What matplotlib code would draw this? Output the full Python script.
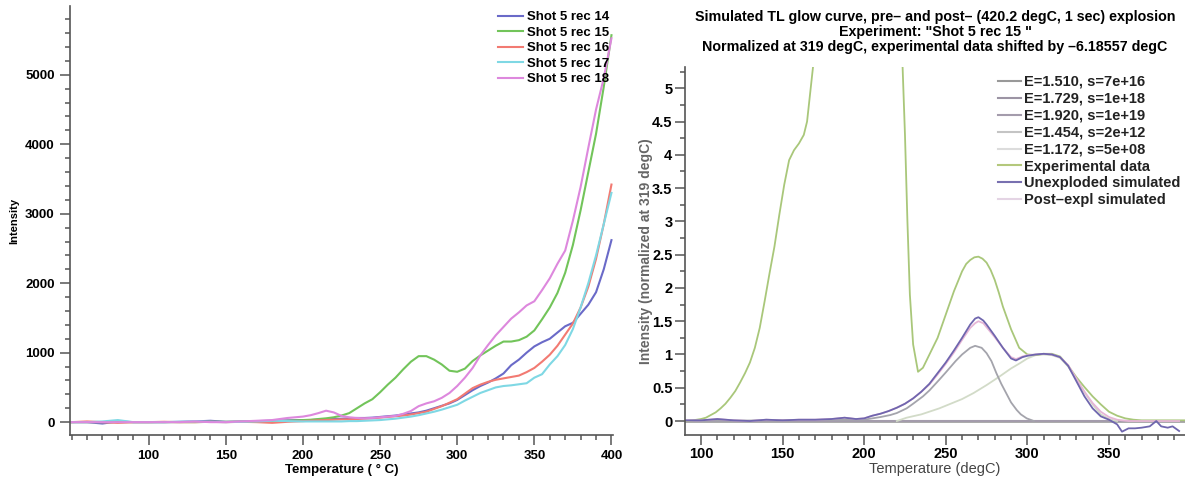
import matplotlib
matplotlib.use('Agg')
import matplotlib.pyplot as plt
from matplotlib.ticker import MultipleLocator

plt.rcParams['font.family'] = ['Liberation Sans', 'DejaVu Sans']

# ---- left panel: raw glow curves ----
temp_left = [50, 60, 70, 80, 90, 100, 110, 120, 130, 140, 150, 160, 170, 180, 190, 200,
             205, 210, 215, 220, 225, 230, 235, 240, 245, 250, 255, 260, 265, 270,
             275, 280, 285, 290, 295, 300, 305, 310, 315, 320, 325, 330, 335, 340,
             345, 350, 355, 360, 365, 370, 375, 380, 385, 390, 395, 400]

rec14 = [0, 0, -20, 10, 0, 0, 0, 5, 10, 20, 5, 10, 15, 20, 25, 30,
         30, 35, 40, 45, 50, 55, 60, 60, 65, 75, 85, 95, 110, 125,
         140, 165, 200, 235, 270, 320, 390, 460, 520, 570, 630, 700, 820, 900,
         1000, 1090, 1150, 1200, 1290, 1380, 1430, 1560, 1690, 1870, 2200, 2620]
rec15 = [0, 0, 0, 0, 0, 0, 0, 0, 0, 5, 5, 5, 10, 15, 20, 30,
         35, 45, 55, 70, 95, 130, 200, 270, 330, 430, 540, 640, 760, 870,
         950, 950, 900, 830, 740, 725, 770, 880, 960, 1030, 1100, 1160, 1160, 1180,
         1230, 1320, 1480, 1650, 1860, 2150, 2550, 3050, 3600, 4150, 4825, 5570]
rec16 = [0, 10, 0, -10, 0, 0, 5, 0, 0, 5, 0, 5, 0, -10, 5, 15,
         20, 25, 30, 35, 40, 40, 45, 50, 55, 65, 75, 85, 95, 110,
         130, 150, 190, 230, 280, 330, 410, 490, 540, 580, 610, 630, 650, 670,
         720, 780, 870, 970, 1100, 1260, 1420, 1650, 1950, 2350, 2850, 3420]
rec17 = [0, 0, 10, 30, 0, 0, 0, 5, 10, 5, 0, 5, 10, 20, 15, 10,
         10, 10, 10, 10, 10, 15, 15, 20, 25, 30, 40, 50, 65, 80,
         100, 125, 150, 180, 215, 250, 310, 365, 420, 460, 500, 520, 530, 545,
         560, 640, 690, 830, 950, 1110, 1340, 1650, 2000, 2400, 2850, 3300]
rec18 = [0, 0, 0, 0, 0, 0, 0, 0, 10, 0, 0, 10, 20, 30, 60, 80,
         100, 130, 165, 140, 90, 70, 60, 55, 60, 70, 80, 90, 120, 160,
         230, 270, 300, 350, 420, 520, 640, 780, 960, 1110, 1250, 1370, 1490, 1580,
         1680, 1740, 1900, 2070, 2280, 2470, 2900, 3385, 3950, 4500, 4950, 5525]

left_labels = ['Shot 5 rec 14', 'Shot 5 rec 15', 'Shot 5 rec 16', 'Shot 5 rec 17', 'Shot 5 rec 18']
left_colors = ['#6a6ac8', '#72c45a', '#f27a72', '#7fd8e4', '#dd88dd']
left_xticks = [100, 150, 200, 250, 300, 350, 400]

# ---- right panel: simulated glow curve ----
exp_T = [90, 95, 100, 103, 106, 109, 112, 115, 118, 121, 124, 127, 130, 133, 136, 139,
         142, 145, 148, 151, 154, 157, 160, 163, 165, 167, 169, 175, 195, 220, 223, 225,
         226.5, 228, 230, 233, 236, 240, 245, 250, 255, 260, 262.5, 265, 267.5, 270, 272.5,
         275, 277.5, 280, 282.5, 285, 290, 295, 300, 305, 310, 315, 320, 325, 330, 335,
         340, 345, 350, 355, 360, 365, 370, 380, 397]
exp_v = [0.0, 0.01, 0.03, 0.05, 0.09, 0.13, 0.19, 0.26, 0.35, 0.45, 0.58, 0.72, 0.88, 1.1, 1.4, 1.8,
         2.22, 2.62, 3.1, 3.55, 3.92, 4.07, 4.17, 4.3, 4.5, 4.95, 5.4, 6.8, 9.0, 7.0, 5.7, 4.3,
         3.0, 1.9, 1.15, 0.74, 0.8, 1.0, 1.25, 1.6, 1.95, 2.25, 2.36, 2.42, 2.46, 2.47, 2.44,
         2.38, 2.27, 2.12, 1.93, 1.72, 1.38, 1.1, 1.0, 0.99, 1.01, 1.01, 0.97, 0.83, 0.66, 0.51,
         0.37, 0.25, 0.14, 0.08, 0.04, 0.02, 0.01, 0.01, 0.01]

sim_T = [90, 100, 110, 120, 130, 140, 150, 160, 170, 180, 188, 195, 200, 205, 210, 215,
         220, 225, 230, 235, 240, 245, 250, 255, 260, 265, 268, 270, 273, 275, 280, 285, 290,
         293, 297, 300, 305, 310, 315, 320, 325, 330, 335, 340, 345, 350, 355, 358, 362,
         366, 370, 375, 379, 382, 386, 389, 393]
unexp_v = [0.01, 0.01, 0.03, 0.01, 0.0, 0.02, 0.01, 0.02, 0.02, 0.03, 0.05, 0.03, 0.04, 0.08, 0.11, 0.15,
           0.2, 0.26, 0.34, 0.44, 0.56, 0.72, 0.88, 1.06, 1.25, 1.45, 1.54, 1.56, 1.51, 1.45, 1.28, 1.1, 0.94,
           0.91, 0.96, 0.98, 1.0, 1.01, 1.0, 0.96, 0.83, 0.6, 0.37, 0.19, 0.07, 0.02, -0.05, -0.16, -0.11,
           -0.11, -0.1, -0.08, 0.0, -0.08, -0.1, -0.08, -0.15]
post_v = [0.01, 0.01, 0.03, 0.01, 0.0, 0.02, 0.01, 0.02, 0.02, 0.03, 0.05, 0.03, 0.04, 0.08, 0.11, 0.15,
          0.2, 0.26, 0.34, 0.44, 0.55, 0.7, 0.86, 1.03, 1.22, 1.4, 1.47, 1.5, 1.47, 1.41, 1.26, 1.1, 0.96,
          0.93, 0.97, 0.99, 1.0, 1.01, 1.0, 0.96, 0.84, 0.64, 0.44, 0.27, 0.14, 0.06, 0.02, 0.01, 0.0,
          0.0, 0.0, 0.0, 0.0, 0.0, 0.0, 0.0, 0.0]

c1510_T = [90, 200, 205, 210, 216, 220, 226, 230, 236, 240, 246, 250, 256, 260, 265, 268,
           272, 275, 278, 281, 284, 287, 290, 293.5, 296, 299.6, 304]
c1510_v = [0.0, 0.02, 0.04, 0.06, 0.09, 0.12, 0.19, 0.26, 0.37, 0.46, 0.62, 0.73, 0.9, 1.0, 1.1, 1.13,
           1.1, 1.02, 0.9, 0.72, 0.56, 0.42, 0.28, 0.165, 0.1, 0.04, 0.0]
c1454_T = [220, 226, 235, 246, 255, 260, 267, 275, 283, 290, 295.5, 300, 305, 310, 315, 320,
           325, 330, 335, 340, 345, 350, 355]
c1454_v = [0.0, 0.05, 0.1, 0.19, 0.28, 0.33, 0.42, 0.54, 0.67, 0.79, 0.87, 0.94, 0.99, 1.0, 0.99, 0.95,
           0.82, 0.63, 0.43, 0.25, 0.1, 0.03, 0.0]
flat_T = [90, 397]
c1729_v = [0.0, 0.0]
c1920_v = [0.0, 0.0]
c1172_v = [0.0, 0.0]

right_title = ('Simulated TL glow curve, pre\u2013 and post\u2013 (420.2 degC, 1 sec) explosion\n'
               'Experiment: "Shot 5 rec 15 "\n'
               'Normalized at 319 degC, experimental data shifted by \u20136.18557 degC')

fig = plt.figure(figsize=(11.85, 4.82), dpi=100)
axL = fig.add_axes([70 / 1185, 47 / 482, 543 / 1185, 429 / 482])
axR = fig.add_axes([685 / 1185, 47 / 482, 500 / 1185, 368 / 482])

tick_col = '#555555'
for ax in (axL, axR):
    for s in ('top', 'right'):
        ax.spines[s].set_visible(False)
    for s in ('left', 'bottom'):
        ax.spines[s].set_color(tick_col)
        ax.spines[s].set_linewidth(1.2)
    ax.tick_params(which='both', direction='out', color=tick_col, width=1.1)
    ax.tick_params(which='major', length=7)
    ax.tick_params(which='minor', length=3.5)

# left panel
for vals, lab, col in zip([rec14, rec15, rec16, rec17, rec18], left_labels, left_colors):
    axL.plot(temp_left, vals, color=col, lw=1.5, label=lab)
axL.set_xlim(49, 401)
axL.set_ylim(-185, 5990)
axL.set_xticks(left_xticks)
axL.xaxis.set_minor_locator(MultipleLocator(10))
axL.yaxis.set_major_locator(MultipleLocator(1000))
axL.yaxis.set_minor_locator(MultipleLocator(200))
axL.tick_params(labelsize=9.5, pad=4)
for t in axL.get_xticklabels() + axL.get_yticklabels():
    t.set_fontweight('bold')
axL.set_xlabel('Temperature ( \u00b0 C)', fontsize=9.5, fontweight='bold', labelpad=1)
axL.set_ylabel('Intensity', fontsize=8, fontweight='bold', labelpad=4)
axL.legend(loc='upper left', bbox_to_anchor=(498 / 1185, 1 - 11 / 482), bbox_transform=fig.transFigure,
           frameon=False, prop={'size': 9.5, 'weight': 'bold'}, handlelength=1.9, handletextpad=0.3,
           labelspacing=0.25, borderpad=0, borderaxespad=0)

# right panel
axR.plot(flat_T, c1172_v, color='#dcdcdc', lw=2, label='E=1.172, s=5e+08')
axR.plot(flat_T, c1920_v, color='#a8a8a8', lw=2, label='E=1.920, s=1e+19')
axR.plot(flat_T, c1729_v, color='#a49cac', lw=1.5, label='E=1.729, s=1e+18')
axR.plot(c1454_T, c1454_v, color='#d2dbc8', lw=1.3, label='E=1.454, s=2e+12')
axR.plot(c1510_T, c1510_v, color='#a4a4ac', lw=1.3, label='E=1.510, s=7e+16')
axR.plot(exp_T, exp_v, color='#a9c77a', lw=1.3, label='Experimental data')
axR.plot(sim_T, post_v, color='#e6b6d6', lw=1.3, label='Post\u2013expl simulated')
axR.plot(sim_T, unexp_v, color='#6f66ae', lw=1.3, label='Unexploded simulated')
axR.set_xlim(90.2, 396.6)
axR.set_ylim(-0.21, 5.32)
axR.xaxis.set_major_locator(MultipleLocator(50))
axR.xaxis.set_minor_locator(MultipleLocator(10))
axR.yaxis.set_minor_locator(MultipleLocator(0.25))
axR.set_yticks([0, 0.5, 1, 1.5, 2, 2.5, 3, 3.5, 4, 4.5, 5])
axR.set_yticklabels(['0', '0.5', '1', '1.5', '2', '2.5', '3', '3.5', '4', '4.5', '5'])
axR.tick_params(labelsize=10.5, pad=2)
for t in axR.get_xticklabels() + axR.get_yticklabels():
    t.set_fontweight('bold')
axR.set_xlabel('Temperature (degC)', fontsize=10.5, color='#444444', labelpad=0)
axR.set_ylabel('Intensity (normalized at 319 degC)', fontsize=10, fontweight='bold', color='#666666', labelpad=-1)
axR.set_title(right_title, fontsize=10.3, fontweight='bold', linespacing=1.08, pad=11.5)

handles, labels = axR.get_legend_handles_labels()
order = ['E=1.510, s=7e+16', 'E=1.729, s=1e+18', 'E=1.920, s=1e+19', 'E=1.454, s=2e+12',
         'E=1.172, s=5e+08', 'Experimental data', 'Unexploded simulated', 'Post\u2013expl simulated']
leg_cols = {'E=1.510, s=7e+16': '#999999', 'E=1.729, s=1e+18': '#9c94a4', 'E=1.920, s=1e+19': '#a49cac',
            'E=1.454, s=2e+12': '#c4c4c4', 'E=1.172, s=5e+08': '#dcdcdc', 'Experimental data': '#b4c87c',
            'Unexploded simulated': '#7870b0', 'Post\u2013expl simulated': '#e4d4e4'}
hmap = dict(zip(labels, handles))
leg = axR.legend([hmap[k] for k in order], order, loc='upper left',
                 bbox_to_anchor=(998 / 1185, 1 - 75 / 482), bbox_transform=fig.transFigure,
                 frameon=False, prop={'size': 10.5, 'weight': 'bold'}, handlelength=1.6,
                 handletextpad=0.2, labelspacing=0.2, borderpad=0, borderaxespad=0)
for line, k in zip(leg.get_lines(), order):
    line.set_color(leg_cols[k])
    line.set_linewidth(1.5)
for txt in leg.get_texts():
    txt.set_color('#222222')

fig.savefig('out.png', dpi=100)
plt.close(fig)
